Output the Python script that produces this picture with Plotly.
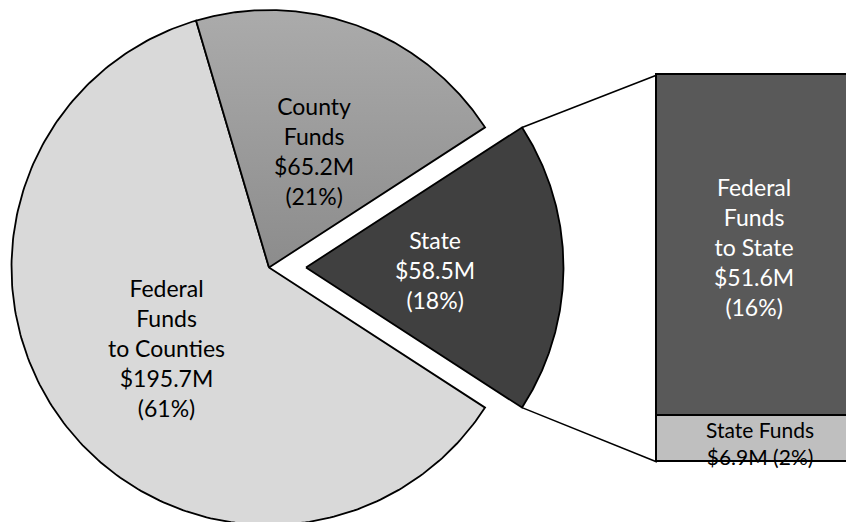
import numpy as np
import plotly.graph_objects as go

# ---- data -------------------------------------------------------------
pie_labels = ["Federal<br>Funds<br>to Counties", "County<br>Funds", "State"]
pie_values = [195.7, 65.2, 58.5]          # $ millions
pie_pct = [61, 21, 18]                    # published shares

state_labels = ["State Funds", "Federal<br>Funds<br>to State"]
state_values = [6.9, 51.6]                # breakdown of the State slice
state_pct = [2, 16]

# ---- layout constants (pixels) ---------------------------------------
W, H = 846, 522
CX, CY, R = 269.0, 267.5, 257.5           # pie centre and radius
EXPLODE = 37.0                            # offset of the State slice
BAR_LEFT, BAR_TOP, BAR_BOTTOM, BAR_W = 657.0, 75.0, 462.0, 194.0

FONT = "Lato"
OUTLINE = "#000000"

fig = go.Figure()

# ---- pie wedges drawn as filled paths --------------------------------
total = sum(pie_values)
span = [v / total * 360.0 for v in pie_values]
state_half = span[2] / 2.0
# State centred on 0 deg, County counter-clockwise after it, Federal the rest
angles = {
    "State": (-state_half, state_half),
    "County": (state_half, state_half + span[1]),
    "Federal": (state_half + span[1], 360.0 - state_half),
}


def wedge(a0, a1, cx, cy, n=240):
    t = np.radians(np.linspace(a0, a1, n))
    xs = np.concatenate([[cx], cx + R * np.cos(t), [cx]])
    ys = np.concatenate([[cy], cy - R * np.sin(t), [cy]])
    return xs, ys


# Federal Funds to Counties
xs, ys = wedge(*angles["Federal"], CX, CY)
fig.add_trace(go.Scatter(x=xs, y=ys, mode="lines", fill="toself",
                         fillcolor="#d9d9d9",
                         line=dict(color=OUTLINE, width=1.8),
                         hoverinfo="skip", showlegend=False))

# County Funds (soft vertical gradient)
xs, ys = wedge(*angles["County"], CX, CY)
fig.add_trace(go.Scatter(x=xs, y=ys, mode="lines", fill="toself",
                         fillgradient=dict(type="vertical",
                                           start=float(ys.min()),
                                           stop=float(ys.max()),
                                           colorscale=[[0, "#ababab"], [1, "#8c8c8c"]]),
                         line=dict(color=OUTLINE, width=1.8),
                         hoverinfo="skip", showlegend=False))

# State slice, pulled out to the right
SX = CX + EXPLODE
xs, ys = wedge(*angles["State"], SX, CY)
fig.add_trace(go.Scatter(x=xs, y=ys, mode="lines", fill="toself",
                         fillcolor="#404040",
                         line=dict(color=OUTLINE, width=1.8),
                         hoverinfo="skip", showlegend=False))

# connector lines from the State slice to the breakdown bar
a_top, a_bot = np.radians(state_half), np.radians(-state_half)
for a, by in ((a_top, BAR_TOP), (a_bot, BAR_BOTTOM)):
    fig.add_trace(go.Scatter(x=[SX + R * np.cos(a), BAR_LEFT],
                             y=[CY - R * np.sin(a), by],
                             mode="lines", line=dict(color=OUTLINE, width=1.6),
                             hoverinfo="skip", showlegend=False))

# ---- stacked breakdown bar -------------------------------------------
state_total = sum(state_values)
bar_colors = ["#bfbfbf", "#595959"]
for lab, val, col in zip(state_labels, state_values, bar_colors):
    fig.add_trace(go.Bar(x=[0.5], y=[val], width=[1.0], name=lab,
                         marker=dict(color=col, line=dict(color=OUTLINE, width=1.8)),
                         xaxis="x2", yaxis="y2", hoverinfo="skip", showlegend=False))

ys_scale = (BAR_BOTTOM - BAR_TOP) / state_total
y2_range = [-(H - BAR_BOTTOM) / ys_scale, state_total + BAR_TOP / ys_scale]
x2_lo = -BAR_LEFT / BAR_W
x2_range = [x2_lo, x2_lo + W / BAR_W]

# ---- labels -----------------------------------------------------------
def money(v):
    return f"${v:.1f}M"


ann = []
pie_pos = [(166, 348), (314, 151), (435, 270)]
pie_txt_col = ["#000000", "#000000", "#ffffff"]
for lab, v, p, pos, c in zip(pie_labels, pie_values, pie_pct, pie_pos, pie_txt_col):
    ann.append(dict(x=pos[0], y=pos[1], xref="x", yref="y",
                    text=f"{lab}<br>{money(v)}<br>({p}%)", showarrow=False,
                    font=dict(family=FONT, size=23, color=c), align="center"))

ann.append(dict(x=754, y=247, xref="x", yref="y",
                text=f"{state_labels[1]}<br>{money(state_values[1])}<br>({state_pct[1]}%)",
                showarrow=False, font=dict(family=FONT, size=23, color="#ffffff"),
                align="center"))
ann.append(dict(x=760, y=443, xref="x", yref="y",
                text=f"{state_labels[0]}<br>{money(state_values[0])} ({state_pct[0]}%)",
                showarrow=False, font=dict(family=FONT, size=21, color="#000000"),
                align="center"))

fig.update_layout(
    width=W, height=H,
    margin=dict(l=0, r=0, t=0, b=0),
    paper_bgcolor="#ffffff", plot_bgcolor="rgba(0,0,0,0)",
    barmode="stack", bargap=0,
    xaxis=dict(range=[0, W], visible=False, domain=[0, 1]),
    yaxis=dict(range=[H, 0], visible=False, domain=[0, 1]),
    xaxis2=dict(range=x2_range, visible=False, overlaying="x", anchor="y2"),
    yaxis2=dict(range=y2_range, visible=False, overlaying="y", anchor="x2"),
    annotations=ann,
    showlegend=False,
)

fig.write_html("out.html")
